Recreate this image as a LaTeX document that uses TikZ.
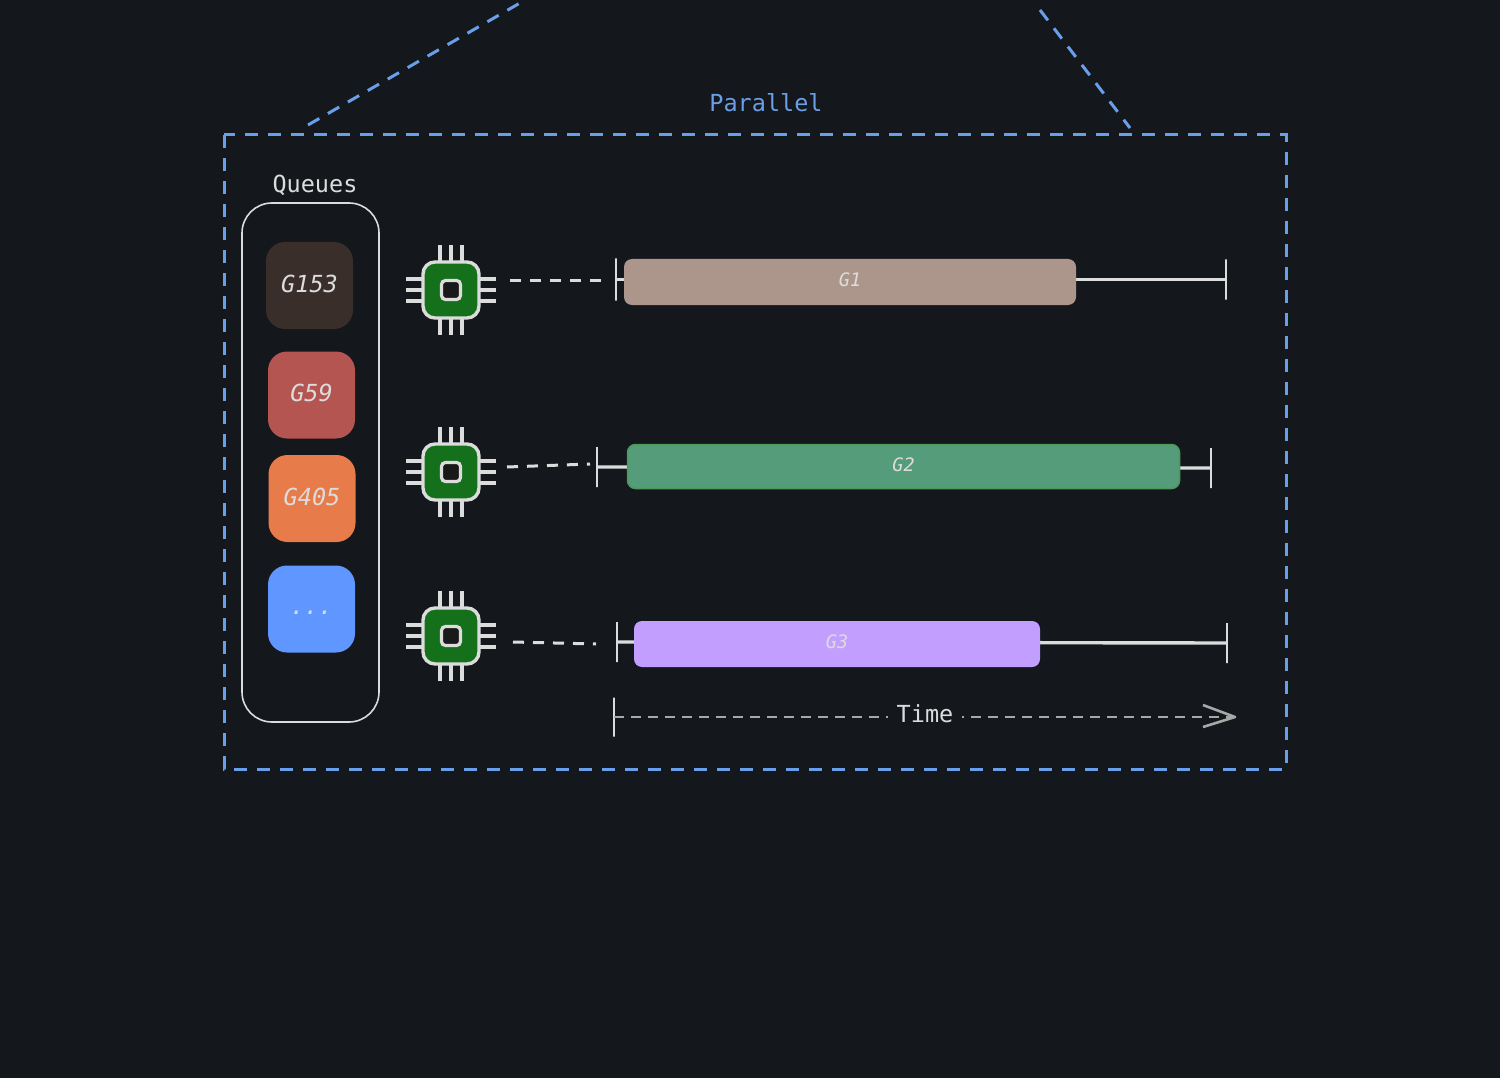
\documentclass[tikz,border=0pt]{standalone}
\usepackage{fontspec}
\setmainfont{DejaVu Sans Mono}
\definecolor{mybg}{HTML}{14171C}
\definecolor{myblue}{HTML}{699EE8}
\definecolor{myink}{HTML}{DCDCDC}
\definecolor{mychip}{HTML}{14701A}
\definecolor{myg}{HTML}{3A2E2A}
\definecolor{myh}{HTML}{B45551}
\definecolor{myi}{HTML}{E77C4A}
\definecolor{myj}{HTML}{6096FF}
\definecolor{mytan}{HTML}{AC968C}
\definecolor{mygreen}{HTML}{559C7A}
\definecolor{mygreenln}{HTML}{4C9A58}
\definecolor{mypurple}{HTML}{C29EFF}
\definecolor{mytime}{HTML}{A8A8A8}
\tikzset{>=latex}
\tikzset{
  every node/.style={inner sep=0pt, outer sep=0pt, text=myink},
  bound/.style={draw=myblue, line width=3pt, dash pattern=on 13pt off 10pt},
  title/.style={font=\fontsize{23.5}{24}\selectfont},
  qbox/.style={draw=myink, line width=1.6pt, rounded corners=30pt, minimum width=137pt, minimum height=519pt},
  blob/.style={rounded corners=19pt, minimum width=87pt, minimum height=87pt, text height=17pt, text depth=4pt, font=\fontsize{23.5}{24}\selectfont\itshape},
  chipbody/.style={draw=myink, fill=mychip, line width=3.4pt, rounded corners=12pt, minimum width=56pt, minimum height=56pt},
  chipcore/.style={draw=myink, fill=black!90, line width=3.2pt, rounded corners=4pt, minimum width=19pt, minimum height=19pt},
  pin/.style={draw=myink, line width=3.2pt},
  bar/.style={rounded corners=8pt, minimum height=46pt, text height=13.5pt, text depth=4pt, font=\fontsize{18.5}{19}\selectfont\itshape},
  span/.style={draw=myink, line width=3.4pt},
  tick/.style={draw=myink, line width=2.4pt, minimum width=0pt, minimum height=40pt},
  waiting/.style={draw=myink, line width=3pt, dash pattern=on 11pt off 9pt},
  timeln/.style={draw=mytime, line width=2.8pt, dash pattern=on 10pt off 7pt},
  timetip/.style={draw=mytime, line width=2.6pt, line join=round},
}
\newcommand{\mychip}[3]{%
  \foreach \d in {-11,0,11} {
    \draw[pin] (#2,#3) ++(\d,-28) -- ++(0,-17);
    \draw[pin] (#2,#3) ++(\d,28) -- ++(0,17);
    \draw[pin] (#2,#3) ++(-28,\d) -- ++(-17,0);
    \draw[pin] (#2,#3) ++(28,\d) -- ++(17,0);
  }
  \node[chipbody] (#1) at (#2,#3) {};
  \node[chipcore] (#1core) at (#1.center) {};
}
\begin{document}
\begin{tikzpicture}[x=1pt,y=-1pt]
  \path[fill=mybg, use as bounding box] (0,0) rectangle (1500,1078);

  \draw[bound] (224,135) rectangle (1286,769);
  \coordinate (rl) at (308,125);
  \coordinate (rr) at (1130,128);
  \coordinate (tl) at (520,3);
  \coordinate (tr) at (1040,10);
  \draw[bound] (rl) -- (tl);
  \draw[bound] (tr) -- (rr);
  \node[title, text=myblue] (par) at (766,103) {Parallel};

  \node[qbox] (queue) at (310.5,462.5) {};
  \node[title] (qlabel) at (315,185) {Queues};
  \node[blob, fill=myg] (g153) at (309.5,285.5) {G153};
  \node[blob, fill=myh] (g59) at (311.5,395) {G59};
  \node[blob, fill=myi] (g405) at (312,498.5) {G405};
  \node[blob, fill=myj, text height=10pt, text depth=0pt] (gmore) at (311.5,609) {...};

  \mychip{c1}{451}{290}
  \mychip{c2}{451}{472}
  \mychip{c3}{451}{636}

  \node[tick, minimum height=42pt] (s1) at (616,279.5) {};
  \node[tick] (e1) at (1226,279.5) {};
  \node[tick] (s2) at (597,467) {};
  \node[tick] (e2) at (1211,468) {};
  \node[tick] (s3) at (617,642) {};
  \node[tick] (e3) at (1227,643) {};

  \draw[span] (s1) -- (e1);
  \draw[span] (s2) -- (e2);
  \draw[span] (s3) -- (e3);

  \node[bar, fill=mytan, minimum width=452pt] (g1) at (850,282) {G1};
  \node[bar, fill=mygreen, draw=mygreenln, line width=1.5pt, minimum width=552pt, minimum height=44pt] (g2) at (903.5,466.5) {G2};
  \node[bar, fill=mypurple, minimum width=406pt] (g3) at (837,644) {G3};

  \coordinate (a1) at (510,281);
  \coordinate (b1) at (607,281);
  \coordinate (a2) at (507,467);
  \coordinate (b2) at (590,464);
  \coordinate (a3) at (513,642);
  \coordinate (b3) at (596,644);
  \draw[waiting] (a1) -- (b1);
  \draw[waiting] (a2) -- (b2);
  \draw[waiting] (a3) -- (b3);

  \node[tick, minimum height=39pt] (t0) at (614,717) {};
  \coordinate (t1) at (1235,717);
  \draw[timeln] (t0) -- (t1);
  \node[title, fill=mybg, inner xsep=9pt, inner ysep=3pt] (time) at (925,714) {Time};
  \draw[timetip] (1203,705) -- (t1) -- (1203,727);
\end{tikzpicture}
\end{document}
